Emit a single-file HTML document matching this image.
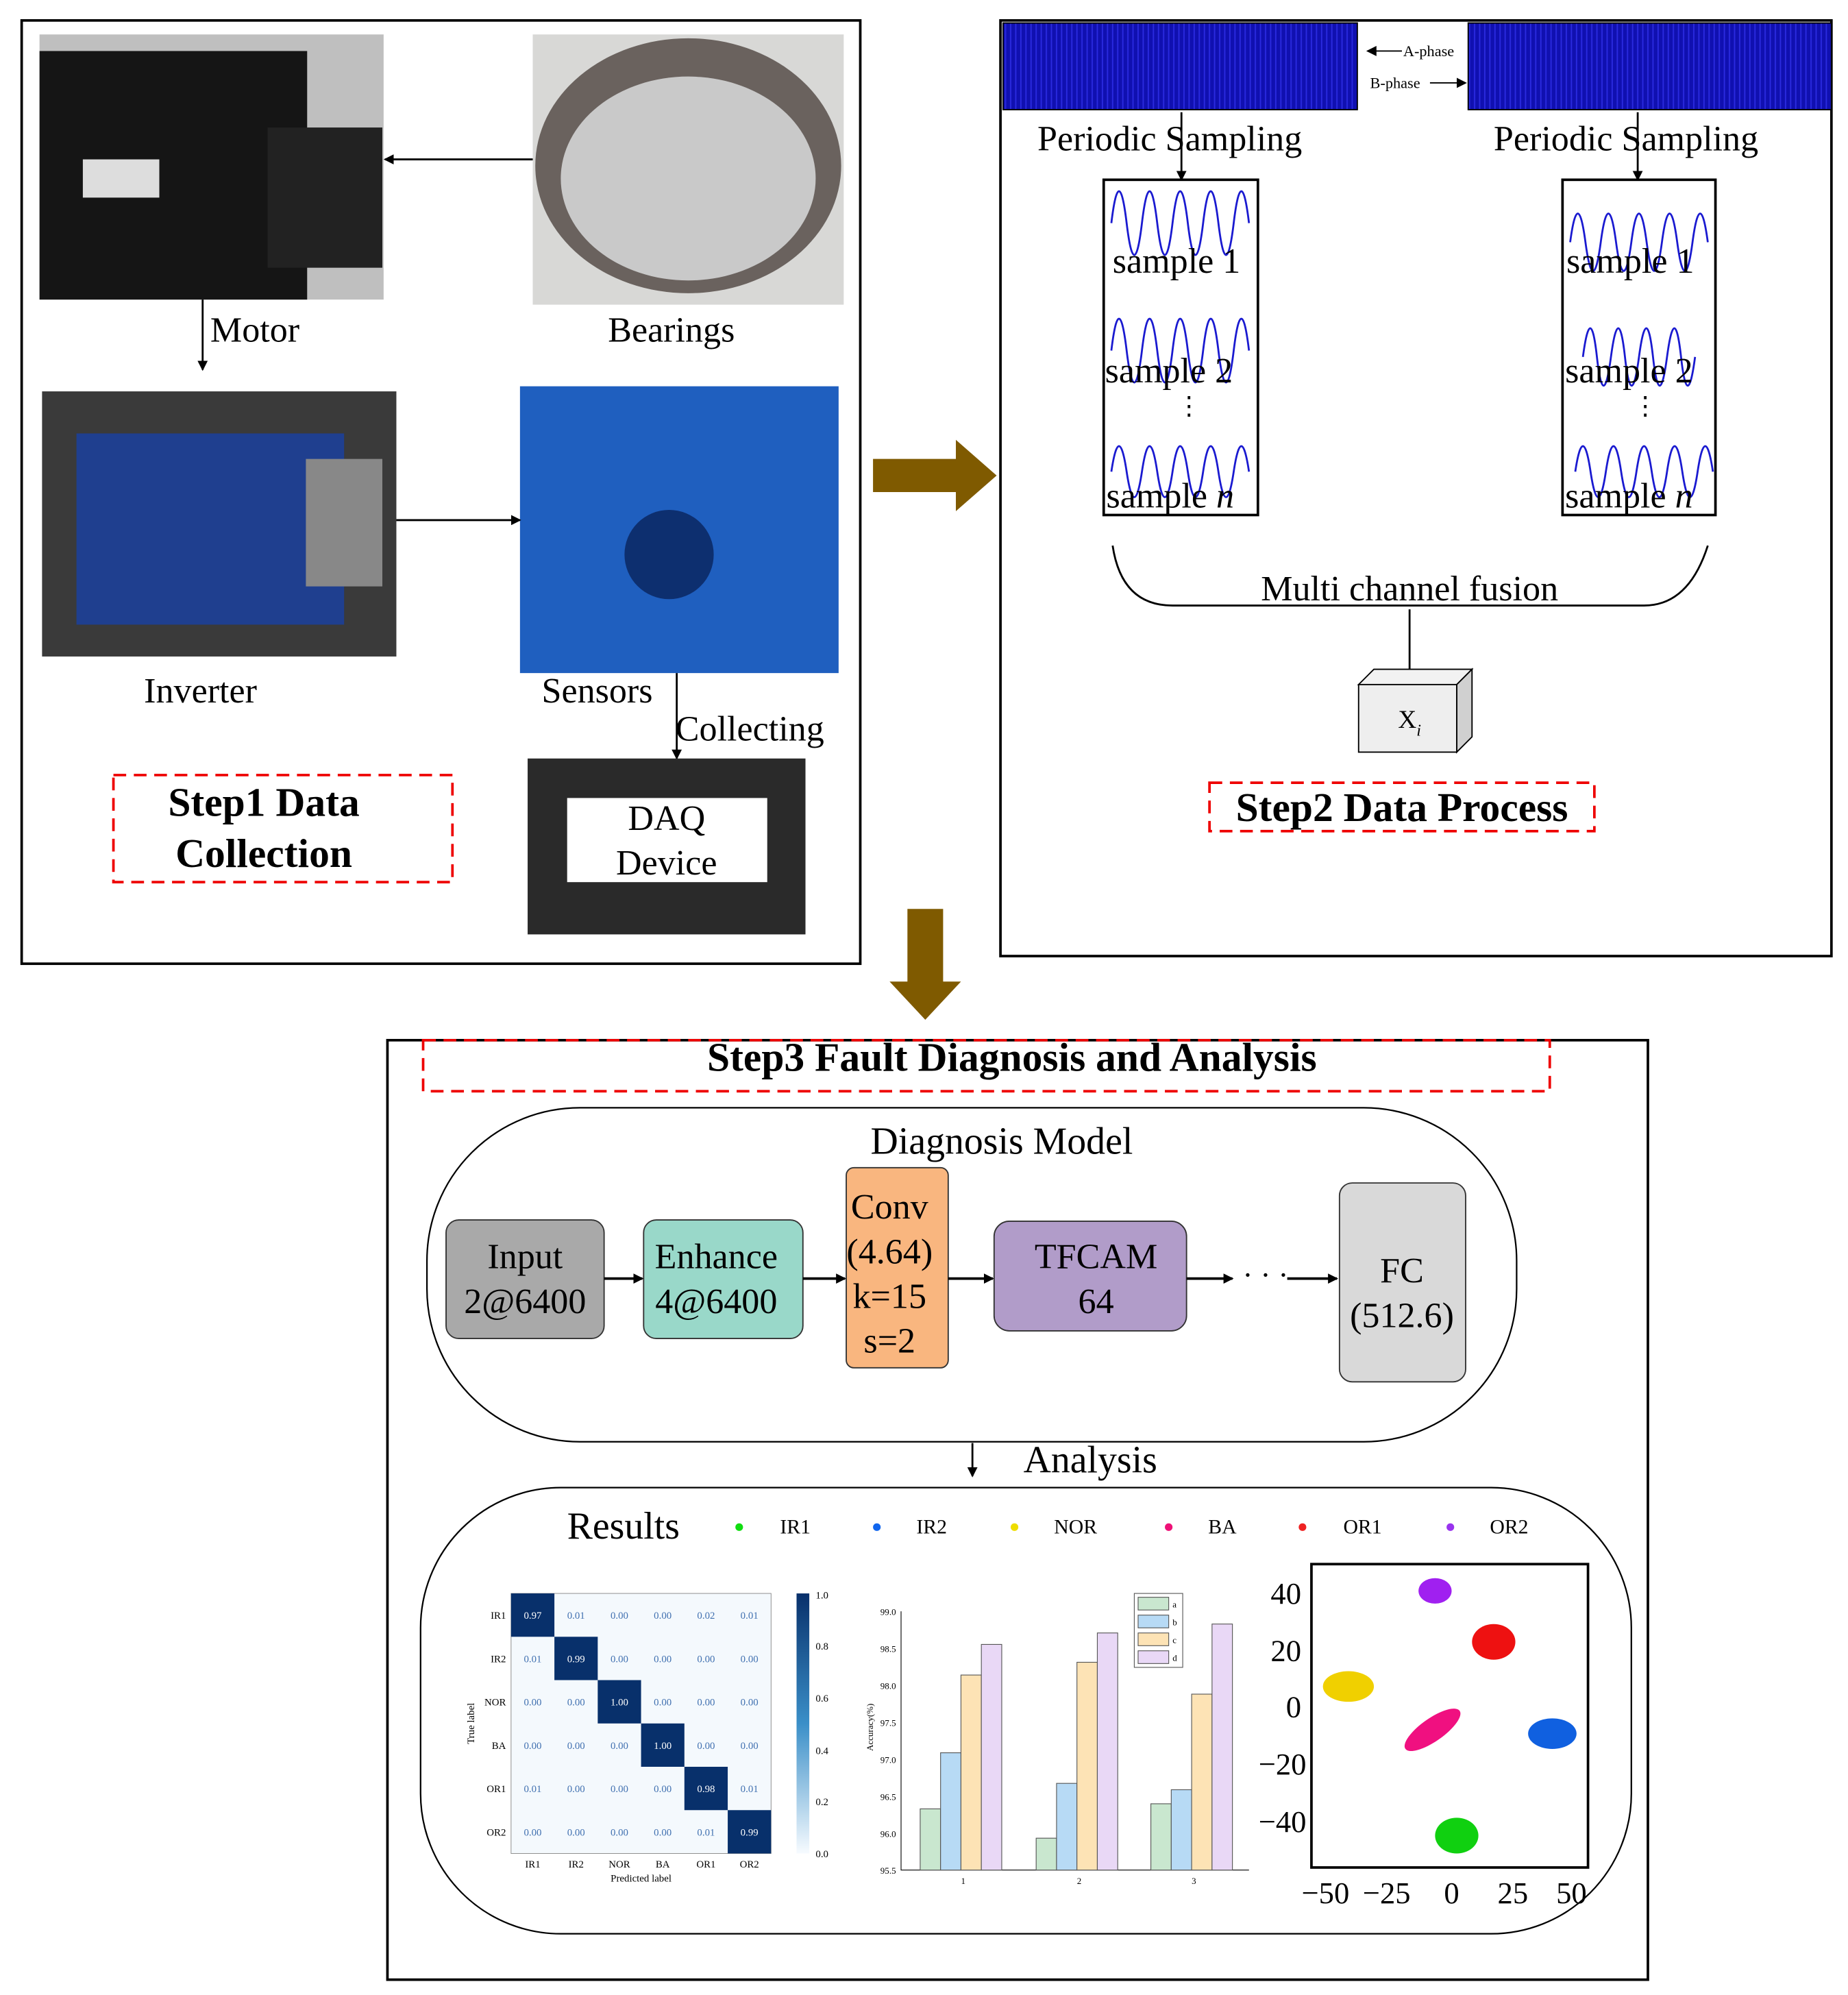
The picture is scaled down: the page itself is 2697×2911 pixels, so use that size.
<!DOCTYPE html>
<html><head><meta charset="utf-8"><style>html,body{margin:0;padding:0;background:#fff}svg{display:block}text{font-family:"Liberation Serif",serif}</style></head><body>
<svg width="2697" height="2911" viewBox="0 0 1450 1565" xmlns="http://www.w3.org/2000/svg">
<defs>
<marker id="ah" markerWidth="8" markerHeight="8" refX="7" refY="4" orient="auto" markerUnits="userSpaceOnUse"><path d="M0,0 L8,4 L0,8 z" fill="#000"/></marker>
<pattern id="sig" width="4" height="60" patternUnits="userSpaceOnUse"><rect width="4" height="60" fill="#1010b0"/><line x1="1" y1="0" x2="1" y2="60" stroke="#2a2ae0" stroke-width="1"/></pattern>
</defs>
<!-- Step1 -->
<rect x="17" y="16" width="658" height="740" fill="none" stroke="#000" stroke-width="2"/>
<rect x="31" y="27" width="270" height="208" fill="#bfbfbf"/>
<rect x="31" y="40" width="210" height="195" fill="#151515"/>
<rect x="210" y="100" width="90" height="110" fill="#222"/>
<rect x="65" y="125" width="60" height="30" fill="#ddd"/>
<rect x="418" y="27" width="244" height="212" fill="#d8d8d6"/>
<ellipse cx="540" cy="130" rx="120" ry="100" fill="#6a625e"/>
<ellipse cx="540" cy="140" rx="100" ry="80" fill="#c9c9c9"/>
<line x1="418" y1="125" x2="302" y2="125" stroke="#000" stroke-width="1.5" marker-end="url(#ah)"/>
<line x1="159" y1="235" x2="159" y2="290" stroke="#000" stroke-width="1.5" marker-end="url(#ah)"/>
<text x="165" y="268" font-size="28">Motor</text>
<text x="477" y="268" font-size="28">Bearings</text>
<rect x="33" y="307" width="278" height="208" fill="#3a3a3a"/>
<rect x="60" y="340" width="210" height="150" fill="#1f3f8f"/>
<rect x="240" y="360" width="60" height="100" fill="#888"/>
<rect x="408" y="303" width="250" height="225" fill="#1f5fbf"/>
<circle cx="525" cy="435" r="35" fill="#0d2f6f"/>
<line x1="311" y1="408" x2="408" y2="408" stroke="#000" stroke-width="1.5" marker-end="url(#ah)"/>
<text x="113" y="551" font-size="28">Inverter</text>
<text x="425" y="551" font-size="28">Sensors</text>
<text x="530" y="581" font-size="28">Collecting</text>
<polyline points="531,528 531,560 531,595" fill="none" stroke="#000" stroke-width="1.5" marker-end="url(#ah)"/>
<rect x="414" y="595" width="218" height="138" fill="#2a2a2a"/>
<rect x="445" y="626" width="157" height="66" fill="#fff"/>
<text x="523" y="651" font-size="28" text-anchor="middle">DAQ</text>
<text x="523" y="686" font-size="28" text-anchor="middle">Device</text>
<rect x="89" y="608" width="266" height="84" fill="none" stroke="#e00" stroke-width="2" stroke-dasharray="10,6"/>
<text x="207" y="640" font-size="32" font-weight="bold" text-anchor="middle">Step1 Data</text>
<text x="207" y="680" font-size="32" font-weight="bold" text-anchor="middle">Collection</text>
<!-- big arrows -->
<polygon points="685,360 750,360 750,345 782,373 750,401 750,386 685,386" fill="#7f5a00"/>
<polygon points="712,713 740,713 740,770 754,770 726,800 698,770 712,770" fill="#7f5a00"/>
<!-- Step2 -->
<rect x="785" y="16" width="652" height="734" fill="none" stroke="#000" stroke-width="2"/>
<rect x="787" y="18" width="278" height="68" fill="url(#sig)" stroke="#000"/>
<rect x="1152" y="18" width="285" height="68" fill="url(#sig)" stroke="#000"/>
<line x1="1100" y1="40" x2="1073" y2="40" stroke="#000" marker-end="url(#ah)"/>
<text x="1101" y="44" font-size="12">A-phase</text>
<text x="1075" y="69" font-size="12">B-phase</text>
<line x1="1122" y1="65" x2="1150" y2="65" stroke="#000" marker-end="url(#ah)"/>
<text x="814" y="118" font-size="28">Periodic Sampling</text>
<text x="1172" y="118" font-size="28">Periodic Sampling</text>
<line x1="927" y1="88" x2="927" y2="141" stroke="#000" stroke-width="1.5" marker-end="url(#ah)"/>
<line x1="1285" y1="88" x2="1285" y2="141" stroke="#000" stroke-width="1.5" marker-end="url(#ah)"/>
<g fill="none" stroke="#1a1ad0" stroke-width="1.5">
<path d="M872,175 q6,-50 12,0 t12,0 t12,0 t12,0 t12,0 t12,0 t12,0 t12,0 t12,0"/>
<path d="M872,275 q6,-50 12,0 t12,0 t12,0 t12,0 t12,0 t12,0 t12,0 t12,0 t12,0"/>
<path d="M872,370 q6,-40 12,0 t12,0 t12,0 t12,0 t12,0 t12,0 t12,0 t12,0 t12,0"/>
<path d="M1232,190 q6,-45 12,0 t12,0 t12,0 t12,0 t12,0 t12,0 t12,0 t12,0 t12,0"/>
<path d="M1242,280 q6,-45 11,0 t11,0 t11,0 t11,0 t11,0 t11,0 t11,0 t11,0"/>
<path d="M1236,370 q6,-40 12,0 t12,0 t12,0 t12,0 t12,0 t12,0 t12,0 t12,0 t12,0"/>
</g>
<rect x="866" y="141" width="121" height="263" fill="none" stroke="#000" stroke-width="2"/>
<rect x="1226" y="141" width="120" height="263" fill="none" stroke="#000" stroke-width="2"/>
<g font-size="28">
<text x="873" y="214">sample 1</text><text x="867" y="300">sample 2</text><text x="868" y="398">sample <tspan font-style="italic">n</tspan></text>
<text x="1229" y="214">sample 1</text><text x="1228" y="300">sample 2</text><text x="1228" y="398">sample <tspan font-style="italic">n</tspan></text>
<text x="923" y="325" font-size="20">⋮</text><text x="1281" y="325" font-size="20">⋮</text>
</g>
<path d="M873,428 Q880,475 920,475 L1290,475 Q1325,475 1340,428" fill="none" stroke="#000" stroke-width="1.5"/>
<text x="1106" y="471" font-size="28" text-anchor="middle">Multi channel fusion</text>
<line x1="1106" y1="478" x2="1106" y2="525" stroke="#000" stroke-width="1.5"/>
<polygon points="1066,537 1078,525 1155,525 1143,537" fill="#f2f2f2" stroke="#000"/>
<polygon points="1143,537 1155,525 1155,578 1143,590" fill="#d0d0d0" stroke="#000"/>
<rect x="1066" y="537" width="77" height="53" fill="#eee" stroke="#000"/>
<text x="1097" y="571" font-size="20">X<tspan font-size="13" font-style="italic" dy="6">i</tspan></text>
<rect x="949" y="614" width="302" height="38" fill="none" stroke="#e00" stroke-width="2" stroke-dasharray="10,6"/>
<text x="1100" y="644" font-size="32" font-weight="bold" text-anchor="middle">Step2 Data Process</text>
<!-- Step3 -->
<rect x="304" y="816" width="989" height="737" fill="none" stroke="#000" stroke-width="2"/>
<rect x="332" y="816" width="884" height="40" fill="none" stroke="#e00" stroke-width="2" stroke-dasharray="10,6"/>
<text x="794" y="840" font-size="32" font-weight="bold" text-anchor="middle">Step3 Fault  Diagnosis and Analysis</text>
<rect x="335" y="869" width="855" height="262" rx="120" fill="none" stroke="#000" stroke-width="1.2"/>
<text x="786" y="905" font-size="30" text-anchor="middle">Diagnosis Model</text>
<rect x="350" y="957" width="124" height="93" rx="10" fill="#a9a9a9" stroke="#333"/>
<text x="412" y="995" font-size="28" text-anchor="middle">Input</text><text x="412" y="1030" font-size="28" text-anchor="middle">2@6400</text>
<rect x="505" y="957" width="125" height="93" rx="10" fill="#99d8c9" stroke="#333"/>
<text x="562" y="995" font-size="28" text-anchor="middle">Enhance</text><text x="562" y="1030" font-size="28" text-anchor="middle">4@6400</text>
<rect x="664" y="916" width="80" height="157" rx="6" fill="#f9b67f" stroke="#333"/>
<text x="698" y="956" font-size="28" text-anchor="middle">Conv</text><text x="698" y="991" font-size="28" text-anchor="middle">(4.64)</text><text x="698" y="1026" font-size="28" text-anchor="middle">k=15</text><text x="698" y="1061" font-size="28" text-anchor="middle">s=2</text>
<rect x="780" y="958" width="151" height="86" rx="12" fill="#b19cc9" stroke="#333"/>
<text x="860" y="995" font-size="28" text-anchor="middle">TFCAM</text><text x="860" y="1030" font-size="28" text-anchor="middle">64</text>
<rect x="1051" y="928" width="99" height="156" rx="10" fill="#d9d9d9" stroke="#333"/>
<text x="1100" y="1006" font-size="28" text-anchor="middle">FC</text><text x="1100" y="1041" font-size="28" text-anchor="middle">(512.6)</text>
<g stroke="#000" stroke-width="2">
<line x1="474" y1="1003" x2="504" y2="1003" marker-end="url(#ah)"/>
<line x1="630" y1="1003" x2="663" y2="1003" marker-end="url(#ah)"/>
<line x1="744" y1="1003" x2="779" y2="1003" marker-end="url(#ah)"/>
<line x1="931" y1="1003" x2="967" y2="1003" marker-end="url(#ah)"/>
<line x1="1010" y1="1003" x2="1049" y2="1003" marker-end="url(#ah)"/>
</g>
<text x="975" y="1008" font-size="24">· · ·</text>
<line x1="763" y1="1132" x2="763" y2="1158" stroke="#000" stroke-width="1.5" marker-end="url(#ah)"/>
<text x="803" y="1155" font-size="30">Analysis</text>
<rect x="330" y="1167" width="950" height="350" rx="110" fill="none" stroke="#000" stroke-width="1.2"/>
<text x="445" y="1207" font-size="30">Results</text>
<g font-size="16">
<circle cx="580" cy="1198" r="3" fill="#1d1"/><text x="612" y="1203">IR1</text>
<circle cx="688" cy="1198" r="3" fill="#16e"/><text x="719" y="1203">IR2</text>
<circle cx="796" cy="1198" r="3" fill="#ed0"/><text x="827" y="1203">NOR</text>
<circle cx="917" cy="1198" r="3" fill="#e17"/><text x="948" y="1203">BA</text>
<circle cx="1022" cy="1198" r="3" fill="#e22"/><text x="1054" y="1203">OR1</text>
<circle cx="1138" cy="1198" r="3" fill="#93e"/><text x="1169" y="1203">OR2</text>
</g>
<!-- confusion matrix -->
<g font-size="8">
<rect x="401" y="1250" width="204" height="204" fill="#f4f9fd" stroke="#888" stroke-width="0.5"/>
<rect x="401" y="1250" width="34" height="34" fill="#08306b"/>
<rect x="435" y="1284" width="34" height="34" fill="#08306b"/>
<rect x="469" y="1318" width="34" height="34" fill="#08306b"/>
<rect x="503" y="1352" width="34" height="34" fill="#08306b"/>
<rect x="537" y="1386" width="34" height="34" fill="#08306b"/>
<rect x="571" y="1420" width="34" height="34" fill="#08306b"/>
<g fill="#4070b0" text-anchor="middle">
<text x="418" y="1270" fill="#fff">0.97</text><text x="452" y="1270">0.01</text><text x="486" y="1270">0.00</text><text x="520" y="1270">0.00</text><text x="554" y="1270">0.02</text><text x="588" y="1270">0.01</text>
<text x="418" y="1304">0.01</text><text x="452" y="1304" fill="#fff">0.99</text><text x="486" y="1304">0.00</text><text x="520" y="1304">0.00</text><text x="554" y="1304">0.00</text><text x="588" y="1304">0.00</text>
<text x="418" y="1338">0.00</text><text x="452" y="1338">0.00</text><text x="486" y="1338" fill="#fff">1.00</text><text x="520" y="1338">0.00</text><text x="554" y="1338">0.00</text><text x="588" y="1338">0.00</text>
<text x="418" y="1372">0.00</text><text x="452" y="1372">0.00</text><text x="486" y="1372">0.00</text><text x="520" y="1372" fill="#fff">1.00</text><text x="554" y="1372">0.00</text><text x="588" y="1372">0.00</text>
<text x="418" y="1406">0.01</text><text x="452" y="1406">0.00</text><text x="486" y="1406">0.00</text><text x="520" y="1406">0.00</text><text x="554" y="1406" fill="#fff">0.98</text><text x="588" y="1406">0.01</text>
<text x="418" y="1440">0.00</text><text x="452" y="1440">0.00</text><text x="486" y="1440">0.00</text><text x="520" y="1440">0.00</text><text x="554" y="1440">0.01</text><text x="588" y="1440" fill="#fff">0.99</text>
</g>
<g text-anchor="end"><text x="397" y="1270">IR1</text><text x="397" y="1304">IR2</text><text x="397" y="1338">NOR</text><text x="397" y="1372">BA</text><text x="397" y="1406">OR1</text><text x="397" y="1440">OR2</text></g>
<g text-anchor="middle"><text x="418" y="1465">IR1</text><text x="452" y="1465">IR2</text><text x="486" y="1465">NOR</text><text x="520" y="1465">BA</text><text x="554" y="1465">OR1</text><text x="588" y="1465">OR2</text><text x="503" y="1476">Predicted label</text></g>
<text x="372" y="1352" transform="rotate(-90 372 1352)" text-anchor="middle">True label</text>
<defs><linearGradient id="cb" x1="0" y1="1" x2="0" y2="0"><stop offset="0" stop-color="#f7fbff"/><stop offset="0.5" stop-color="#3a8fc8"/><stop offset="1" stop-color="#08306b"/></linearGradient></defs>
<rect x="625" y="1250" width="10" height="204" fill="url(#cb)"/>
<text x="640" y="1254">1.0</text><text x="640" y="1294">0.8</text><text x="640" y="1335">0.6</text><text x="640" y="1376">0.4</text><text x="640" y="1416">0.2</text><text x="640" y="1457">0.0</text>
</g>
<!-- bar chart -->
<g font-size="7" stroke="#555" stroke-width="0.6">
<polyline points="707,1264 707,1467 980,1467" fill="none" stroke="#000"/>
<rect x="722" y="1419" width="16" height="48" fill="#c9e7cf"/>
<rect x="738" y="1375" width="16" height="92" fill="#b7daf5"/>
<rect x="754" y="1314" width="16" height="153" fill="#fde3b5"/>
<rect x="770" y="1290" width="16" height="177" fill="#e9d8f6"/>
<rect x="813" y="1442" width="16" height="25" fill="#c9e7cf"/>
<rect x="829" y="1399" width="16" height="68" fill="#b7daf5"/>
<rect x="845" y="1304" width="16" height="163" fill="#fde3b5"/>
<rect x="861" y="1281" width="16" height="186" fill="#e9d8f6"/>
<rect x="903" y="1415" width="16" height="52" fill="#c9e7cf"/>
<rect x="919" y="1404" width="16" height="63" fill="#b7daf5"/>
<rect x="935" y="1329" width="16" height="138" fill="#fde3b5"/>
<rect x="951" y="1274" width="16" height="193" fill="#e9d8f6"/>
<rect x="890" y="1250" width="38" height="58" fill="#fff"/>
<rect x="893" y="1253" width="24" height="10" fill="#c9e7cf"/><rect x="893" y="1267" width="24" height="10" fill="#b7daf5"/><rect x="893" y="1281" width="24" height="10" fill="#fde3b5"/><rect x="893" y="1295" width="24" height="10" fill="#e9d8f6"/>
</g>
<g font-size="7"><text x="920" y="1261">a</text><text x="920" y="1275">b</text><text x="920" y="1289">c</text><text x="920" y="1303">d</text>
<g text-anchor="end"><text x="703" y="1267">99.0</text><text x="703" y="1296">98.5</text><text x="703" y="1325">98.0</text><text x="703" y="1354">97.5</text><text x="703" y="1383">97.0</text><text x="703" y="1412">96.5</text><text x="703" y="1441">96.0</text><text x="703" y="1470">95.5</text></g>
<text x="754" y="1478">1</text><text x="845" y="1478">2</text><text x="935" y="1478">3</text>
<text x="685" y="1355" transform="rotate(-90 685 1355)" text-anchor="middle">Accuracy(%)</text></g>
<!-- scatter -->
<rect x="1029" y="1227" width="217" height="238" fill="#fff" stroke="#000" stroke-width="2"/>
<ellipse cx="1126" cy="1248" rx="13" ry="10" fill="#a020f0"/>
<ellipse cx="1172" cy="1288" rx="17" ry="14" fill="#ee1111"/>
<ellipse cx="1058" cy="1323" rx="20" ry="12" fill="#f0d000"/>
<ellipse cx="1218" cy="1360" rx="19" ry="12" fill="#1060e0"/>
<ellipse cx="1124" cy="1357" rx="26" ry="9" fill="#f01080" transform="rotate(-35 1124 1357)"/>
<ellipse cx="1143" cy="1440" rx="17" ry="14" fill="#10d010"/>
<g font-size="24" font-family="Liberation Sans">
<g text-anchor="end"><text x="1021" y="1258">40</text><text x="1021" y="1303">20</text><text x="1021" y="1347">0</text><text x="1025" y="1392">−20</text><text x="1025" y="1437">−40</text></g>
<g text-anchor="middle"><text x="1040" y="1493">−50</text><text x="1088" y="1493">−25</text><text x="1139" y="1493">0</text><text x="1187" y="1493">25</text><text x="1233" y="1493">50</text></g>
</g>
</svg>
</body></html>
